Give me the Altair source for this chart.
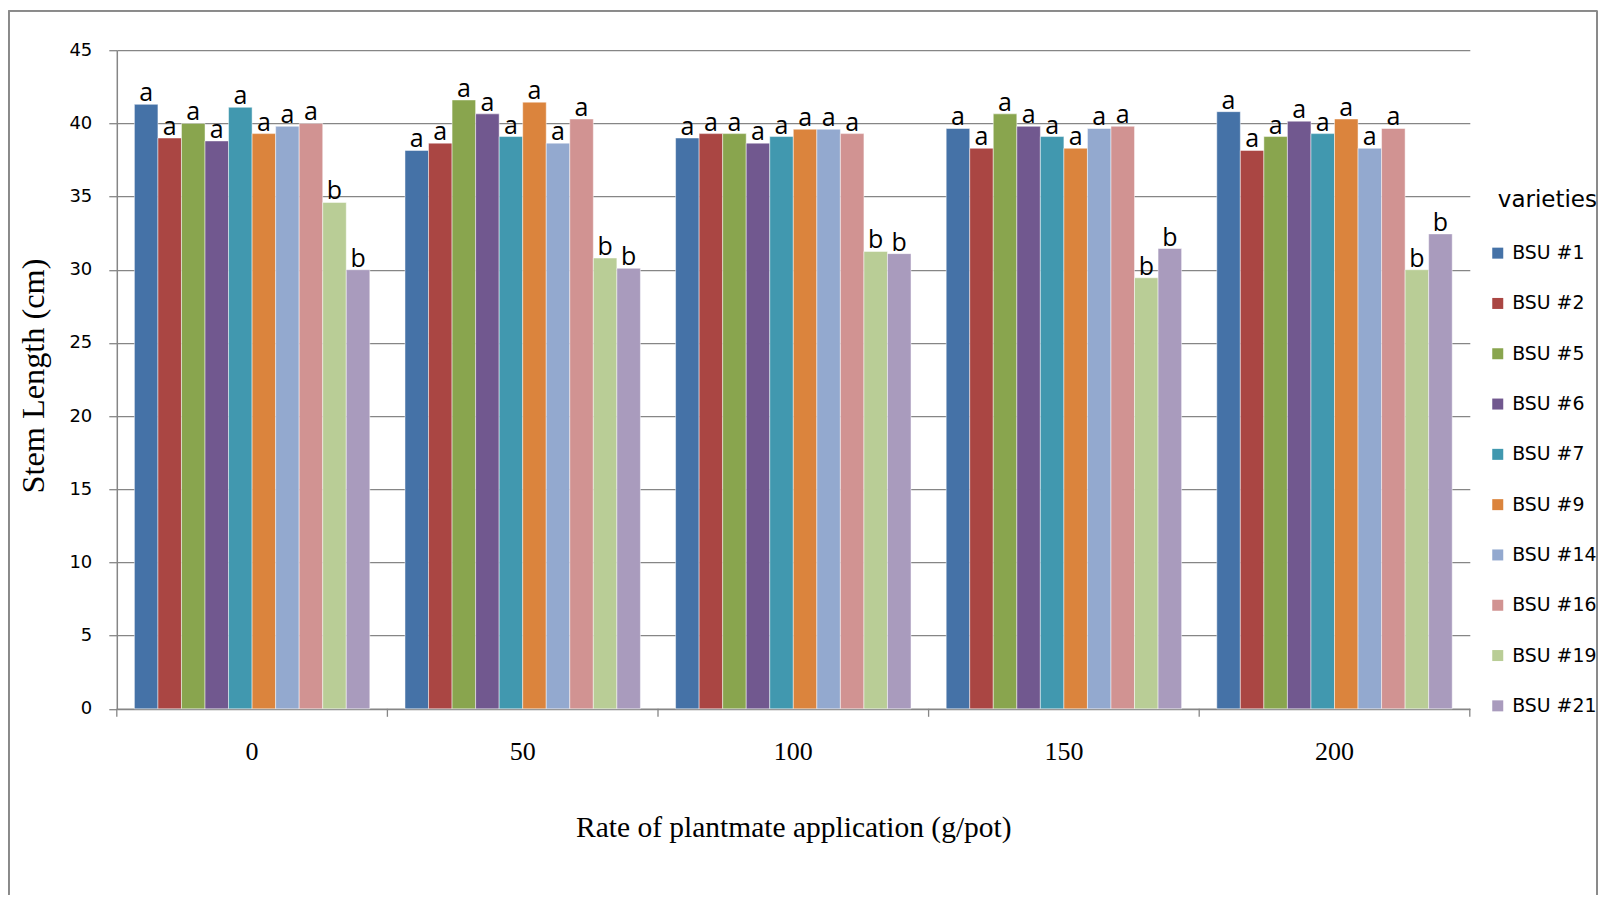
import altair as alt
import pandas as pd

rates = ["0", "50", "100", "150", "200"]
varieties = ["BSU #1", "BSU #2", "BSU #5", "BSU #6", "BSU #7",
             "BSU #9", "BSU #14", "BSU #16", "BSU #19", "BSU #21"]
colors = ["#4572A7", "#AA4643", "#89A54E", "#71588F", "#4198AF",
          "#DB843D", "#93A9CF", "#D19392", "#B9CD96", "#A99BBD"]

# stem length per variety, across rates 0, 50, 100, 150, 200
bsu1 = [41.3, 38.15, 39.0, 39.65, 40.8]
bsu2 = [39.0, 38.65, 39.3, 38.3, 38.15]
bsu5 = [40.0, 41.6, 39.3, 40.65, 39.1]
bsu6 = [38.8, 40.65, 38.65, 39.8, 40.15]
bsu7 = [41.1, 39.1, 39.1, 39.1, 39.3]
bsu9 = [39.3, 41.45, 39.6, 38.3, 40.3]
bsu14 = [39.8, 38.65, 39.6, 39.65, 38.3]
bsu16 = [40.0, 40.3, 39.3, 39.8, 39.65]
bsu19 = [34.6, 30.8, 31.25, 29.45, 30.0]
bsu21 = [30.0, 30.1, 31.1, 31.45, 32.45]
series = [bsu1, bsu2, bsu5, bsu6, bsu7, bsu9, bsu14, bsu16, bsu19, bsu21]
letters = ["a", "a", "a", "a", "a", "a", "a", "a", "b", "b"]

rows = []
for v, vals, let in zip(varieties, series, letters):
    for r, val in zip(rates, vals):
        rows.append({"rate": r, "variety": v, "length": val, "letter": let})
df = pd.DataFrame(rows)
rate_df = pd.DataFrame({"rate": rates})

W, H = 1353, 658.6
P_IN, P_OUT = 0.13, 0.065
STEP = W / (len(rates) - P_IN + 2 * P_OUT)
HALF_GAP = STEP * P_OUT
GRAY = "#868686"

x = alt.X("rate:N", sort=rates,
          scale=alt.Scale(paddingInner=P_IN, paddingOuter=P_OUT),
          axis=alt.Axis(title="Rate of plantmate application (g/pot)",
                        labelAngle=0, labelFont="Liberation Serif", labelFontSize=26,
                        labelColor="#000", labelPadding=30, ticks=False,
                        grid=False,
                        titleFont="Liberation Serif", titleFontSize=29.5,
                        titleFontWeight="normal", titleColor="#000",
                        titleY=119, titleBaseline="middle"))
xo = alt.XOffset("variety:N", sort=varieties,
                 scale=alt.Scale(paddingInner=0, paddingOuter=0))
y = alt.Y("length:Q", scale=alt.Scale(domain=[0, 45], nice=False),
          axis=alt.Axis(title="Stem Length (cm)", values=list(range(0, 46, 5)),
                        labelFont="DejaVu Sans", labelFontSize=18, labelColor="#000",
                        labelPadding=17, tickSize=8,
                        titleFont="Liberation Serif", titleFontSize=32.3,
                        titleFontWeight="normal", titleColor="#000",
                        titleX=-83, titleY=H / 2 - 4, titleBaseline="middle"))

bars = alt.Chart(df).mark_bar(stroke="white", strokeWidth=0.8, strokeOpacity=0.6).encode(
    x=x, xOffset=xo, y=y,
    color=alt.Color("variety:N", sort=varieties,
                    scale=alt.Scale(domain=varieties, range=colors),
                    legend=alt.Legend(title="varieties", orient="none",
                                      legendX=1381, legendY=138.5,
                                      symbolType="square", symbolSize=121,
                                      symbolStrokeWidth=0, symbolOffset=-9.5,
                                      labelFont="DejaVu Sans", labelFontSize=18.9,
                                      labelColor="#000", labelOffset=5,
                                      rowPadding=30.3,
                                      titleFont="DejaVu Sans", titleFontSize=23,
                                      titleFontWeight="normal", titleColor="#000",
                                      titlePadding=32))
)

labels = alt.Chart(df).mark_text(font="Open Sans", fontSize=25, color="#000",
                                 baseline="alphabetic", dy=-3).encode(
    x=x, xOffset=xo, y=y, text="letter:N"
)

# category-boundary ticks on the x axis (Excel style)
ticks_start = alt.Chart(rate_df).mark_rule(color=GRAY, strokeWidth=1.3, xOffset=-HALF_GAP).encode(
    x=alt.X("rate:N", sort=rates, bandPosition=0),
    y=alt.value(H), y2=alt.value(H + 8))
ticks_end = alt.Chart(rate_df).transform_filter(
    alt.datum.rate == rates[-1]
).mark_rule(color=GRAY, strokeWidth=1.3, xOffset=HALF_GAP).encode(
    x=alt.X("rate:N", sort=rates, bandPosition=1),
    y=alt.value(H), y2=alt.value(H + 8))

RIGHT = 128.2
frame_top = alt.Chart(rate_df).mark_rule(color="#8a8a8a", strokeWidth=1.5).encode(
    x=alt.value(-108), x2=alt.value(W + RIGHT - 1), y=alt.value(-39.5))
frame_left = alt.Chart(rate_df).mark_rule(color="#8a8a8a", strokeWidth=1.5).encode(
    x=alt.value(-108), y=alt.value(-39.5), y2=alt.value(H + 186))
frame_right = alt.Chart(rate_df).mark_rule(color="#8a8a8a", strokeWidth=1.5).encode(
    x=alt.value(W + RIGHT - 1), y=alt.value(-39.5), y2=alt.value(H + 186))

chart = alt.layer(bars, labels, ticks_start, ticks_end,
                  frame_top, frame_left, frame_right).properties(
    width=W, height=H,
    autosize=alt.AutoSizeParams(type="none"),
    padding={"left": 108.8, "top": 42.2, "right": RIGHT, "bottom": 186},
).configure_axis(
    domainColor=GRAY, gridColor=GRAY, tickColor=GRAY,
    domainWidth=1.5, gridWidth=1.3, tickWidth=1.3,
).configure_view(stroke=None)

chart.save("out.html", embed_options={"renderer": "svg", "actions": False})
